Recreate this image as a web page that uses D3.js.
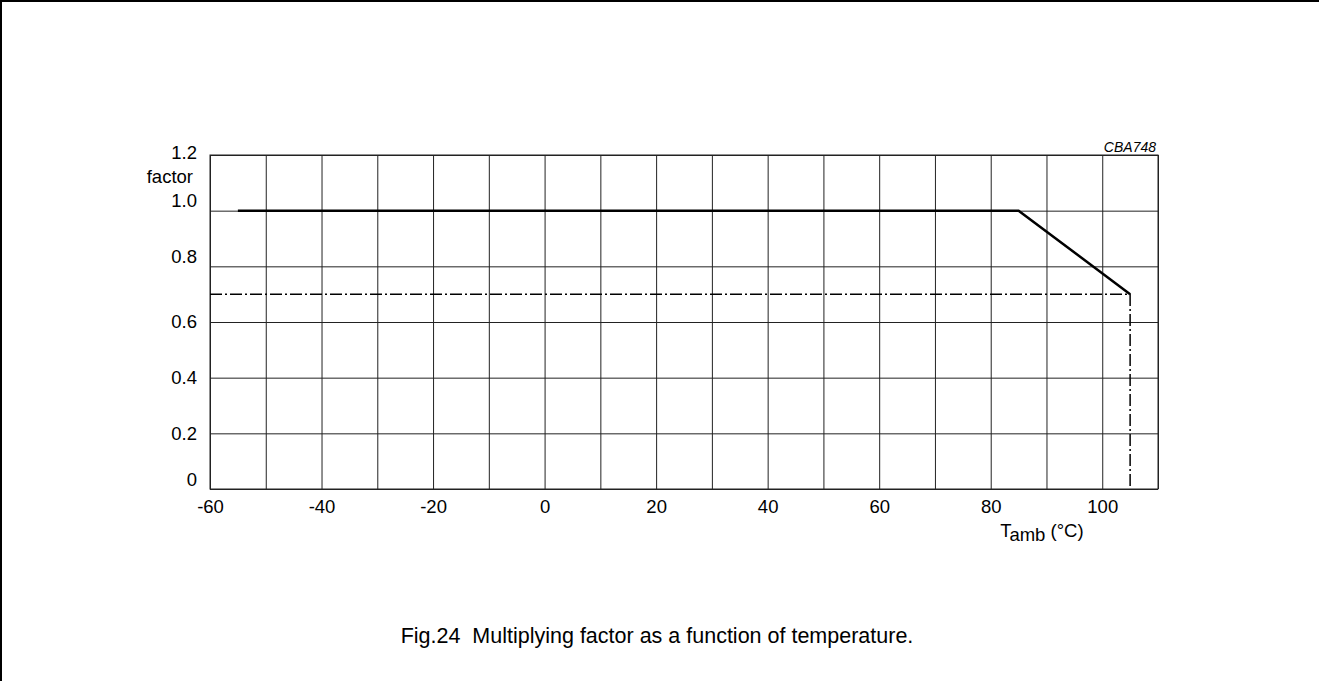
<!DOCTYPE html>
<html>
<head>
<meta charset="utf-8">
<script src="https://cdn.jsdelivr.net/npm/d3@7"></script>
<style>
  body { margin: 0; background: #fff; }
  svg { display: block; font-family: "Liberation Sans", Arial, sans-serif; }
</style>
</head>
<body>
<div id="chart"></div>
<script>
// chart data
var xGridValues = [-60, -50, -40, -30, -20, -10, 0, 10, 20, 30, 40, 50, 60, 70, 80, 90, 100, 110]
var xLabelValues = [-60, -40, -20, 0, 20, 40, 60, 80, 100]
var yValues = [0, 0.2, 0.4, 0.6, 0.8, 1.0, 1.2]
var yLabels = ['0', '0.2', '0.4', '0.6', '0.8', '1.0', '1.2']

var factorTemp = [-55, 85, 105]
var factorValue = [1.0, 1.0, 0.7]
var limitTemp = [-60, 105, 105]
var limitValue = [0.7, 0.7, 0]

var W = 1319, H = 681
var margin = { top: 155, left: 210, right: 161, bottom: 192 }
var width = W - margin.left - margin.right
var height = H - margin.top - margin.bottom
var labelSize = 18.5

var svg = d3.select('#chart').append('svg')
    .attr('width', W)
    .attr('height', H)

// page frame (top and left edges only)
svg.append('line').attr('x1', 0).attr('x2', W).attr('y1', 1).attr('y2', 1)
    .attr('stroke', '#000').attr('stroke-width', 2)
svg.append('line').attr('x1', 1).attr('x2', 1).attr('y1', 0).attr('y2', H)
    .attr('stroke', '#000').attr('stroke-width', 2)

var g = svg.append('g')
    .attr('transform', 'translate(' + margin.left + ',' + margin.top + ')')

var x = d3.scaleLinear().domain([-60, 110]).range([0, width])
var y = d3.scaleLinear().domain([0, 1.2]).range([height, 0])

// grid
g.append('g').attr('class', 'xgrid')
    .attr('transform', 'translate(0,' + height + ')')
    .call(d3.axisBottom(x).tickValues(xGridValues).tickSize(-height).tickFormat(''))
g.append('g').attr('class', 'ygrid')
    .call(d3.axisLeft(y).tickValues(yValues).tickSize(-width).tickFormat(''))
g.selectAll('.xgrid line, .ygrid line').attr('stroke', '#222').attr('stroke-width', 1)
g.selectAll('.xgrid .domain, .ygrid .domain').remove()

g.append('rect')
    .attr('width', width).attr('height', height)
    .attr('fill', 'none').attr('stroke', '#222').attr('stroke-width', 1)

// x labels
var xAxis = g.append('g')
    .attr('transform', 'translate(0,' + height + ')')
    .call(d3.axisBottom(x).tickValues(xLabelValues).tickSize(0).tickPadding(11)
        .tickFormat(function(d) { return String(d) }))
xAxis.select('.domain').remove()
xAxis.selectAll('text').attr('font-size', labelSize).attr('fill', '#000')
    .attr('font-family', '"Liberation Sans", Arial, sans-serif')

// y labels (some labels sit above their grid line in the original)
var yShift = { '1.2': -2, '1': -10, '0.8': -10, '0': -9 }
var yAxis = g.append('g')
    .call(d3.axisLeft(y).tickValues(yValues).tickSize(0).tickPadding(13)
        .tickFormat(function(d, i) { return yLabels[i] }))
yAxis.select('.domain').remove()
yAxis.selectAll('text').attr('font-size', labelSize).attr('fill', '#000')
    .attr('font-family', '"Liberation Sans", Arial, sans-serif')
    .attr('transform', function(d) { return 'translate(0,' + (yShift[String(d)] || 0) + ')' })

g.append('text')
    .attr('x', -17).attr('y', 28)
    .attr('text-anchor', 'end')
    .attr('font-size', labelSize)
    .text('factor')

g.append('text')
    .attr('x', width - 2).attr('y', -3)
    .attr('text-anchor', 'end')
    .attr('font-size', 14)
    .attr('font-style', 'italic')
    .text('CBA748')

var xt = g.append('text')
    .attr('x', x(81.7)).attr('y', height + 48)
    .attr('font-size', labelSize)
xt.append('tspan').text('T')
xt.append('tspan').attr('dy', 4).text('amb')
xt.append('tspan').attr('dy', -4).text(' (\u00B0C)')

// lines
var line = d3.line()
    .x(function(d) { return x(d[0]) })
    .y(function(d) { return y(d[1]) })

g.append('path')
    .attr('d', line(limitTemp.map(function(t, i) { return [t, limitValue[i]] })))
    .attr('fill', 'none')
    .attr('stroke', '#000')
    .attr('stroke-width', 1.5)
    .attr('stroke-dasharray', '12,3,2,3')

g.append('path')
    .attr('d', line(factorTemp.map(function(t, i) { return [t, factorValue[i]] })))
    .attr('fill', 'none')
    .attr('stroke', '#000')
    .attr('stroke-width', 2.5)

// caption
svg.append('text')
    .attr('x', 657).attr('y', 643)
    .attr('text-anchor', 'middle')
    .attr('font-size', 21.5)
    .attr('xml:space', 'preserve')
    .style('white-space', 'pre')
    .text('Fig.24  Multiplying factor as a function of temperature.')
</script>
</body>
</html>
